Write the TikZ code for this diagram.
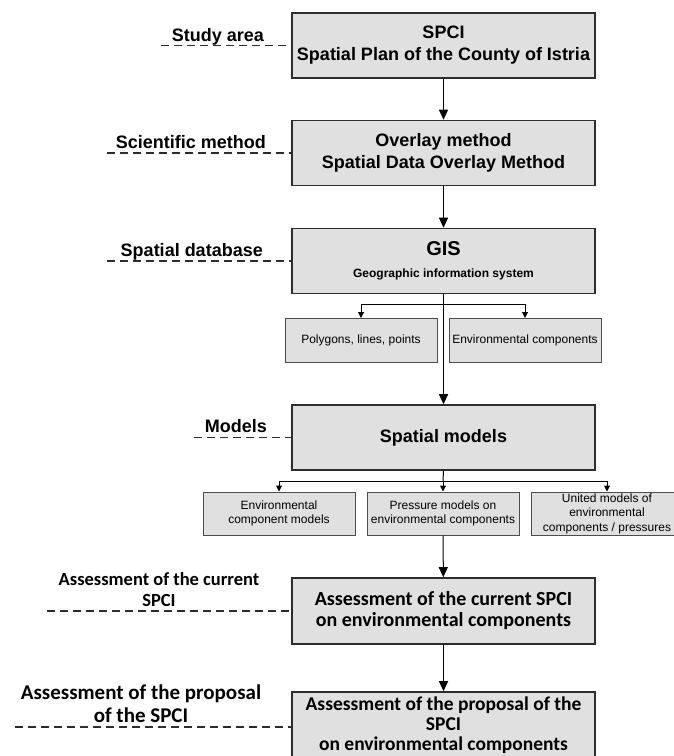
\documentclass[tikz,border=0pt]{standalone}
\usepackage{fontspec}
\setmainfont{Liberation Sans}
\newfontfamily\calfont{Carlito}
\usetikzlibrary{arrows.meta}
\definecolor{boxfill}{RGB}{224,224,224}
\definecolor{boxline}{RGB}{45,45,45}
\tikzset{
  stagebox/.style={draw=boxline, fill=boxfill, line width=1.6pt, minimum width=303pt,
    minimum height=65pt, align=center, inner sep=0pt,
    font=\fontsize{18}{22}\selectfont\bfseries},
  subbox/.style={draw=boxline!85, fill=boxfill, line width=1pt, minimum width=152pt,
    minimum height=44pt, align=center, inner sep=0pt,
    font=\fontsize{12}{14.5}\selectfont},
  levellabel/.style={font=\fontsize{18}{20}\selectfont\bfseries, inner sep=0pt},
  assesslabel/.style={font=\calfont\fontsize{18.5}{21}\selectfont\bfseries, inner sep=0pt, align=center},
  levelline/.style={dash pattern=on 8pt off 5pt, line width=1.5pt, boxline},
  flow/.style={-{Triangle[length=10pt,width=9pt]}, line width=1pt, black},
  branch/.style={-{Triangle[length=6pt,width=6pt]}, line width=1pt, black},
}
\begin{document}
\begin{tikzpicture}[x=1pt,y=-1pt]
\useasboundingbox (0,0) rectangle (674,756);
% main stages
\node[stagebox] (spci) at (443.5,45.5) {SPCI\\Spatial Plan of the County of Istria};
\node[stagebox] (overlay) at (443.5,153) {Overlay method\\Spatial Data Overlay Method};
\node[stagebox] (gis) at (443.5,261) {{\fontsize{20}{22}\selectfont GIS}\\{\fontsize{12}{14}\selectfont Geographic information system}};
\node[stagebox] (models) at (443.5,437.5) {Spatial models};
\node[stagebox, font=\calfont\fontsize{20}{21}\selectfont\bfseries, minimum height=66pt] (current) at (443.5,611) {Assessment of the current SPCI\\on environmental components};
\node[stagebox, font=\calfont\fontsize{19.5}{20}\selectfont\bfseries, minimum height=66pt] (proposal) at (443.5,725) {Assessment of the proposal of the\\SPCI\\on environmental components};
% sub boxes
\node[subbox] (poly) at (361,340.5) {Polygons, lines, points};
\node[subbox] (envc) at (525,340.5) {Environmental components};
\node[subbox, minimum height=43pt] (ecm) at (279,513.5) {Environmental\\component models};
\node[subbox, minimum height=43pt] (pmec) at (443,513.5) {Pressure models on\\environmental components};
\node[subbox, minimum height=43pt] (umec) at (607,513.5) {United models of\\environmental\\components / pressures};
% connectors
\coordinate (gisfork) at (443,304);
\coordinate (modfork) at (443,481);
\draw[flow] (spci) -- (overlay);
\draw[flow] (overlay) -- (gis);
\draw[flow] (gis.south) -- (models.north);
\foreach \sub in {poly,envc} % edit here for the GIS branches
  \draw[branch] (gisfork) -| (\sub.north);
\draw[line width=1pt] (models.south) -- (modfork);
\foreach \sub in {ecm,pmec,umec} % edit here for the model branches
  \draw[branch] (modfork) -| (\sub.north);
\draw[flow] (pmec) -- (current);
\draw[flow] (current) -- (proposal);
% levels on the left
\coordinate (lstudy) at (161,45.5);
\coordinate (lsci) at (107,153);
\coordinate (ldb) at (107,261);
\coordinate (lmod) at (194,437.5);
\coordinate (lcur) at (47,611);
\coordinate (lprop) at (15,727);
\draw[levelline] (lstudy) -- (spci.west);
\draw[levelline] (lsci) -- (overlay.west);
\draw[levelline] (ldb) -- (gis.west);
\draw[levelline] (lmod) -- (models.west);
\draw[levelline] (lcur) -- (current.west);
\draw[levelline] (lprop) -- (current.west |- lprop);
\node[levellabel, anchor=base east] (tstudy) at (264,41) {Study area};
\node[levellabel, anchor=base east] (tsci) at (266,148) {Scientific method};
\node[levellabel, anchor=base east] (tdb) at (263,256) {Spatial database};
\node[levellabel, anchor=base east] (tmod) at (267,432) {Models};
\node[assesslabel, anchor=south] (tcur) at (159,607) {Assessment of the current\\SPCI};
\node[assesslabel, font=\calfont\fontsize{21}{23}\selectfont\bfseries, anchor=south] (tprop) at (141,723) {Assessment of the proposal\\of the SPCI};
\end{tikzpicture}
\end{document}
